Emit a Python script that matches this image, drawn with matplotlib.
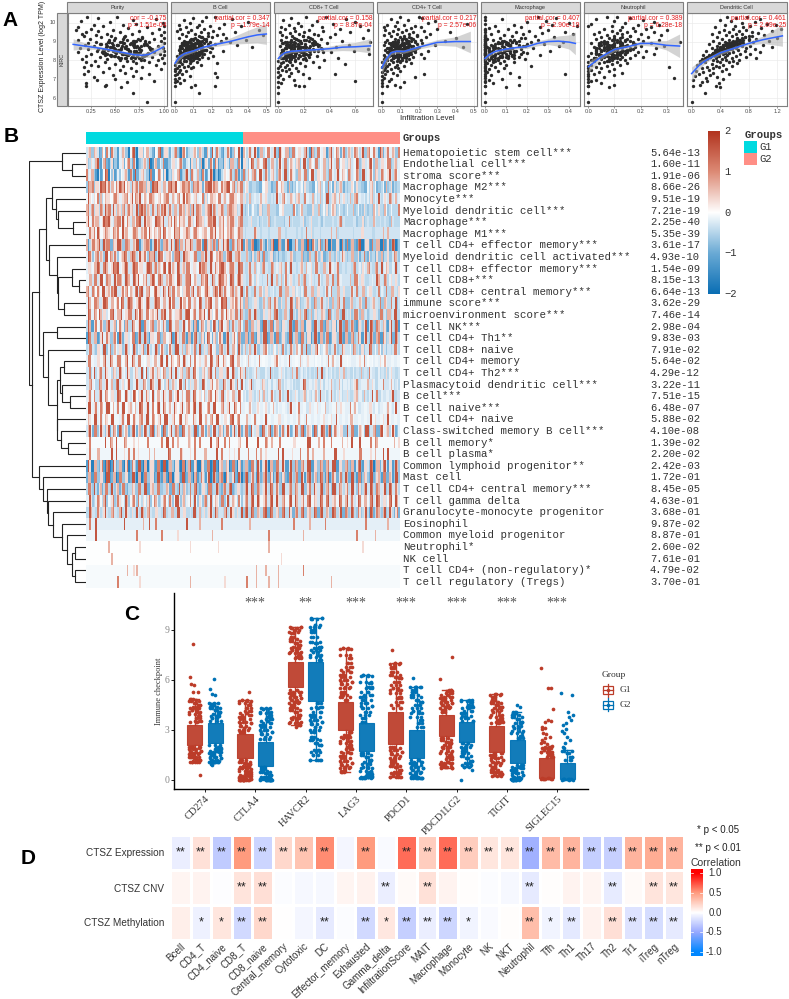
import numpy as np
import matplotlib
matplotlib.use("Agg")
import matplotlib.pyplot as plt
from matplotlib.colors import LinearSegmentedColormap, ListedColormap
from matplotlib.patches import Rectangle

W, H = 789, 999
plt.rcParams['font.family'] = ['Liberation Sans', 'DejaVu Sans']

# ---- panel A, one expression value per sample, x in hundredths per cell type
ctsz = [10.32,10.3,10.25,10.2,10.15,10.1,10.05,10.0,9.95,9.9,9.88,9.85,9.8,9.78,9.75,9.7,
        9.68,9.65,9.62,9.6,9.58,9.55,9.52,9.5,9.48,9.45,9.42,9.4,9.38,9.35,9.32,9.3,
        9.28,9.25,9.22,9.2,9.18,9.15,9.12,9.1,9.08,9.06,9.04,9.02,9.0,8.98,8.96,8.94,
        8.92,8.9,8.88,8.86,8.84,8.82,8.8,8.78,8.76,8.74,8.72,8.7,8.68,8.66,8.64,8.62,
        8.6,8.58,8.56,8.54,8.52,8.5,8.48,8.46,8.44,8.42,8.4,8.38,8.36,8.34,8.32,8.3,
        8.28,8.26,8.24,8.22,8.2,8.18,8.16,8.14,8.12,8.1,8.08,8.06,8.04,8.02,8.0,7.98,
        7.96,7.94,7.92,7.9,7.87,7.84,7.81,7.78,7.75,7.72,7.69,7.66,7.63,7.6,7.57,7.54,
        7.5,7.46,7.42,7.38,7.34,7.3,7.26,7.22,7.18,7.12,7.06,7.0,6.95,6.9,6.85,6.8,
        6.72,6.66,6.62,6.58,6.25,5.8]
purity_x = [21,52,33,92,68,15,45,99,72,28,58,100,38,83,12,63,
            25,95,48,10,75,33,100,55,20,88,42,67,16,97,30,60,
            18,78,36,100,50,24,90,62,12,44,70,97,30,55,85,22,
            47,100,35,65,19,80,52,94,28,73,41,60,99,14,86,33,
            56,22,77,43,100,64,31,90,50,12,70,38,96,58,25,82,
            46,100,68,20,53,88,35,75,60,98,42,16,80,55,94,29,
            62,20,85,40,100,72,50,25,92,58,33,78,18,66,44,97,
            55,22,72,38,60,18,85,48,68,28,77,50,32,90,62,20,
            41,40,20,56,68,83]
bcell_x = [17,22,10,31,5,15,40,8,27,13,2,19,36,6,12,24,
           3,16,46,9,21,1,14,33,7,18,4,26,11,48,23,13,
           6,20,15,28,2,10,17,39,8,12,25,5,14,19,30,9,
           16,4,11,22,7,13,34,18,3,9,15,42,12,6,20,10,
           8,14,2,17,11,26,5,13,9,19,4,12,7,16,3,10,
           12,6,21,1,9,15,4,11,7,18,3,13,8,2,10,5,
           6,1,12,3,8,23,4,14,0,7,2,10,5,1,9,0,
           3,0,6,2,22,1,4,0,8,23,2,0,5,1,0,3,
           11,22,0,9,13,0]
cd8_x = [22,37,10,53,4,30,60,15,43,8,26,64,18,2,34,12,
         48,5,24,70,13,35,1,20,56,9,28,16,44,3,31,11,
         19,40,6,25,66,14,33,2,22,10,50,17,72,7,29,13,
         38,4,21,12,55,27,8,16,31,1,45,19,10,24,6,70,
         15,34,3,22,11,28,59,7,18,41,13,2,25,9,71,16,
         5,20,30,12,1,24,8,47,15,3,19,10,36,6,22,0,
         13,4,27,9,2,17,52,7,11,1,21,5,32,0,14,8,
         3,15,6,0,10,44,19,1,8,0,24,4,12,60,0,2,
         13,16,20,0,0,0]
cd4_x = [20,10,22,5,14,29,8,25,46,3,12,18,7,21,1,16,
         9,30,13,2,23,6,17,37,11,4,15,26,8,19,1,12,
         5,24,10,16,40,7,13,3,21,9,34,14,2,18,6,11,
         22,4,15,8,12,29,1,17,10,6,44,13,3,19,9,14,
         7,16,2,11,25,5,13,9,18,3,12,6,15,21,8,1,
         10,14,4,7,17,2,12,23,6,9,1,15,5,11,3,8,
         13,0,6,10,2,16,4,8,1,12,3,7,0,9,2,5,
         1,10,3,0,6,23,2,8,0,18,1,5,0,4,12,0,
         7,0,3,10,0,0]
macro_x = [0,25,34,8,0,29,20,40,0,14,32,5,44,17,26,2,
           0,11,30,0,21,6,38,15,0,27,3,18,42,9,0,24,
           13,0,33,7,19,1,0,12,25,4,16,0,37,10,22,0,
           6,15,0,28,3,11,0,18,8,35,1,0,13,23,5,0,
           9,17,0,4,12,2,31,0,7,14,0,20,3,10,0,26,
           0,5,13,1,0,8,16,0,3,11,0,19,6,0,2,9,
           0,4,14,0,7,1,0,10,3,0,22,0,5,0,9,2,
           0,6,0,1,12,0,38,3,0,16,0,8,2,0,0,4,
           16,0,0,10,0,0]
neutro_x = [11,7,16,3,21,10,25,14,1,19,27,9,0,24,13,17,
            6,22,12,30,9,18,4,15,25,11,2,20,13,7,28,10,
            16,5,23,12,8,19,3,14,27,10,21,6,17,35,11,1,
            13,24,7,18,10,4,15,29,9,20,12,2,16,6,26,11,
            8,17,3,13,22,10,5,15,19,7,12,1,25,9,14,4,
            11,18,6,0,13,8,21,3,10,16,5,12,1,9,14,7,
            2,11,0,6,15,4,9,1,12,0,7,3,31,0,5,10,
            1,8,0,4,13,0,2,10,0,6,33,0,3,1,0,5,
            10,0,0,8,0,0]
dc_x = [50,78,62,95,40,55,88,70,105,46,118,60,82,33,72,97,
        58,125,45,76,66,112,38,85,52,93,62,70,28,101,48,80,
        56,74,35,120,64,43,90,52,80,68,30,108,47,60,86,38,
        72,55,24,66,100,44,58,82,36,70,50,112,62,28,76,45,
        54,88,32,65,48,20,74,58,40,96,52,30,68,44,82,36,
        50,16,62,38,76,46,26,56,34,90,42,22,66,48,30,58,
        36,18,52,40,12,64,28,44,8,34,56,22,38,14,30,48,
        24,6,42,16,30,52,10,26,4,36,20,44,2,22,14,38,
        12,34,2,40,18,0]

# the dense middle of each cloud
ctsz_core = [9.12,9.05,8.99,8.93,8.87,8.81,8.75,8.69,8.63,8.57,8.51,8.45,8.39,8.33,8.27,8.21,
             9.08,9.01,8.95,8.89,8.83,8.77,8.71,8.65,8.59,8.53,8.47,8.41,8.35,8.29,8.23,8.17,
             9.15,8.97,8.91,8.85,8.79,8.73,8.67,8.61,8.55,8.49,8.43,8.37,8.31,8.25,8.19,8.13,
             9.03,8.86,8.81,8.76,8.71,8.66,8.61,8.56,8.51,8.46,8.41,8.36,8.3,8.22,8.15,8.09,
             9.22,9.1,9.0,8.9,8.8,8.7,8.6,8.5,8.4,8.3,8.2,8.1,8.92,8.62,8.42,8.12,
             9.3,9.18,8.94,8.84,8.74,8.64,8.54,8.44,8.34,8.24,8.14,8.04,8.72,8.52,8.32,7.98]
purity_core = [58,72,44,66,80,52,61,47,75,38,69,55,84,42,63,73,
               49,81,57,36,68,77,45,60,88,53,71,40,64,79,50,67,
               74,43,59,82,48,70,56,86,39,65,76,51,62,46,78,54,
               68,41,83,57,72,49,63,87,52,37,74,60,45,80,66,55,
               59,76,44,70,53,85,62,48,73,40,67,56,81,50,64,71,
               46,78,58,69,42,75,54,65,83,49,61,77,47,72,57,68]
bcell_core = [9,15,6,12,18,4,10,14,7,16,3,11,8,13,5,9,
              12,17,5,10,14,7,19,3,11,6,13,8,15,4,9,12,
              16,8,11,4,14,6,12,9,17,5,10,3,13,7,11,2,
              13,6,10,15,8,3,12,5,9,14,7,4,11,6,2,8,
              14,10,7,13,5,11,8,15,3,9,6,12,4,10,7,5,
              18,11,6,9,13,4,16,8,12,5,10,2,7,14,3,9]
cd8_core = [14,24,9,18,30,6,21,12,27,4,16,35,10,22,7,13,
            20,28,5,15,11,25,8,33,17,3,19,13,9,23,6,11,
            26,12,18,7,32,10,15,21,4,24,14,8,19,5,12,2,
            17,29,8,13,22,6,16,10,25,3,14,20,7,11,4,9,
            23,15,10,27,7,18,12,31,5,13,9,21,3,16,8,6,
            19,12,26,9,15,5,22,11,7,17,4,13,10,20,2,8]
cd4_core = [11,16,7,13,19,5,10,14,8,17,4,12,9,15,6,10,
            13,18,6,11,15,8,20,4,12,7,14,9,16,5,10,13,
            17,9,12,5,15,7,13,10,18,6,11,4,14,8,12,3,
            14,7,11,16,9,4,13,6,10,15,8,5,12,7,3,9,
            15,11,8,14,6,12,9,16,4,10,7,13,5,11,8,6,
            19,12,7,10,14,5,17,9,13,6,11,3,8,15,4,10]
macro_core = [0,9,15,6,0,12,19,4,0,10,14,7,0,17,3,11,
              0,8,13,5,0,16,9,2,0,11,18,6,0,14,4,10,
              0,13,7,20,0,5,12,9,0,15,3,8,0,11,1,6,
              0,10,16,4,0,13,7,2,0,9,12,5,0,8,3,6,
              0,14,6,11,0,4,9,2,0,13,7,5,0,10,3,1,
              0,17,8,12,0,6,10,3,0,7,14,4,0,9,2,5]
neutro_core = [10,14,6,12,17,4,9,13,7,15,3,11,8,12,5,9,
               11,16,5,10,13,7,18,3,11,6,12,8,14,4,9,11,
               15,7,10,4,13,6,11,8,16,5,9,3,12,7,10,2,
               12,6,9,14,8,3,11,5,9,13,7,4,10,6,2,8,
               13,9,7,12,5,10,8,14,3,9,6,11,4,9,7,5,
               16,10,6,8,12,4,15,7,11,5,9,2,7,13,3,8]
dc_core = [64,58,70,52,60,46,54,42,56,38,48,34,44,30,36,26,
           72,62,56,66,50,44,58,40,52,36,46,32,38,28,34,22,
           80,60,68,54,48,62,42,50,38,44,32,46,28,36,26,20,
           66,58,50,64,44,54,40,48,34,42,30,38,24,32,20,14,
           74,66,58,50,44,40,36,50,44,30,26,22,60,48,34,18,
           84,70,64,56,52,44,40,36,30,26,22,16,54,42,28,12]

panel_names = ["Purity", "B Cell", "CD8+ T Cell", "CD4+ T Cell", "Macrophage", "Neutrophil", "Dendritic Cell"]
panel_x = [purity_x, bcell_x, cd8_x, cd4_x, macro_x, neutro_x, dc_x]
panel_core = [purity_core, bcell_core, cd8_core, cd4_core, macro_core, neutro_core, dc_core]
panel_cor = ["cor = -0.175", "partial.cor = 0.347", "partial.cor = 0.158", "partial.cor = 0.217",
             "partial.cor = 0.407", "partial.cor = 0.389", "partial.cor = 0.461"]
panel_p = ["p = 1.51e-04", "p = 1.79e-14", "p = 8.87e-04", "p = 2.57e-06",
           "p = 2.90e-19", "p = 6.28e-18", "p = 2.69e-25"]
panel_px = [(67.5, 167), (171, 270), (274.5, 373), (377.5, 477), (480.7, 580), (583.7, 683), (687, 786.7)]
panel_lim = [(0.012, 1.034), (-0.022, 0.52), (-0.03, 0.74), (-0.023, 0.516), (-0.02, 0.452), (-0.018, 0.363), (-0.065, 1.33)]
panel_ticks = [[0.25, 0.5, 0.75, 1.0], [0, .1, .2, .3, .4, .5], [0, .2, .4, .6], [0, .1, .2, .3, .4, .5],
               [0, .1, .2, .3, .4], [0, .1, .2, .3], [0, .4, .8, 1.2]]
panel_tick_fmt = ["%.2f", "%.1f", "%.1f", "%.1f", "%.1f", "%.1f", "%.1f"]

# fitted line and ribbon
fit_x = [[.07,.2,.3,.4,.5,.6,.7,.78,.85,.92,1.0],
         [0,.02,.05,.1,.15,.2,.3,.4,.45,.5],
         [0,.02,.05,.1,.2,.3,.4,.5,.6,.72],
         [0,.02,.05,.08,.12,.2,.3,.4,.48],
         [0,.02,.05,.1,.15,.2,.25,.3,.35,.4,.43],
         [0,.05,.1,.15,.2,.25,.3,.35],
         [0,.1,.2,.4,.6,.8,1.0,1.27]]
fit_y = [[8.85,8.75,8.68,8.6,8.5,8.4,8.3,8.27,8.32,8.5,8.72],
         [7.85,8.15,8.35,8.5,8.68,8.8,9.0,9.25,9.35,9.4],
         [8.1,8.25,8.4,8.48,8.53,8.57,8.62,8.7,8.72,8.77],
         [7.6,8.0,8.4,8.48,8.47,8.7,8.95,9.0,9.0],
         [8.1,8.3,8.48,8.6,8.68,8.73,8.9,9.0,9.02,8.97,8.9],
         [7.66,8.2,8.58,8.72,8.9,8.9,8.8,8.76],
         [7.3,7.72,8.0,8.4,8.65,8.9,9.1,9.3]]
fit_hi = [[9.15,8.9,8.78,8.68,8.58,8.48,8.4,8.4,8.48,8.72,9.0],
          [8.1,8.3,8.45,8.58,8.76,8.9,9.18,9.6,9.78,9.95],
          [8.35,8.4,8.5,8.56,8.6,8.66,8.76,8.88,8.95,9.15],
          [7.95,8.2,8.5,8.58,8.56,8.8,9.1,9.25,9.55],
          [8.22,8.4,8.56,8.68,8.76,8.83,9.03,9.16,9.3,9.35,9.5],
          [7.95,8.32,8.68,8.82,9.0,9.05,9.05,9.4],
          [7.65,7.95,8.12,8.5,8.74,9.0,9.3,9.9]]
fit_lo = [[8.55,8.6,8.58,8.52,8.42,8.32,8.2,8.14,8.16,8.28,8.44],
          [7.6,8.0,8.25,8.42,8.6,8.7,8.85,8.9,8.92,8.85],
          [7.85,8.1,8.3,8.4,8.46,8.48,8.48,8.52,8.5,8.4],
          [7.25,7.8,8.3,8.38,8.38,8.6,8.8,8.75,8.4],
          [7.98,8.2,8.4,8.52,8.6,8.63,8.77,8.84,8.75,8.6,8.3],
          [7.37,8.08,8.48,8.62,8.8,8.75,8.55,8.15],
          [6.9,7.5,7.88,8.3,8.56,8.8,8.9,8.75]]

# ---- panel B, one char per sample block: 0-9 blue levels, p-s red levels
heat_levels = {'0':-1.7,'1':-1.2,'2':-.9,'3':-.65,'4':-.45,'5':-.3,'6':-.18,'7':-.1,'8':-.05,'9':-.015,
               'p':.3,'q':.65,'r':1.1,'s':1.6}
heat_g1 = [
 "5q3p1q26r415p37s0p3q528r1p46q30r25p7q416s3p25r1q74",
 "p46q26r1p3162q4r03p5s1q24136p7r2514q30p26r13p5q426",
 "r6q152s03168p4r125q3018r7p236q14s2p53r16q204p7r3q5",
 "3qrp6rsrq7prsq4prrq3psrp5qrsq8prq5rqp2rspq6rqs7rqr",
 "7p6834qp8rp6qrp7qs8prq7p8qr6pq7srp6q7rp8qpr6q7rp8q",
 "q5rp4qsr5pq4rqp5srq4pr5qrs4pq5rqp3srq4pr5qpr4qrp4q",
 "p7rq5prs6qr6pr5qrs6pq7srp5qrs7pq6r5sqp6rqs5p7qrp6r",
 "7rp7q8rp7qr8pq7rq6prs8pq7rp8sq7pr6qr8pq7rs7p8qr7pq",
 "q4rps3qr2psq3r5qs1prq4sr2qps3rq5ps4qr1sp3qr5ps2qrp",
 "6r3q5ps7qr3ps5qr4sp6rq3sr5p7qr4sq6pr3qs5r7pq3rs5qp",
 "6p7qr5s6prs7qr5srp6qs5rq7sr6ps5qr7p6srq5pr7sq6rp5r",
 "7q5rps5q6srq5r6sp7qr5s7rq5pr6sq5rs7p5qr6s5qrp7s5qr",
 "q6r8ps6qrs5p7rq6sr5qr7sp6qs5rq8pr5s6q7rp5s6qr7q5pr",
 "6q7r5ps6q8rs5qr6ps7rq5sr6qp8r5sq7rp6s5qr7q6sr5p8qr",
 "7r6qs5p8r6qs7pr5qs6r8qp5rs7q6pr5s8q6rp7s5q6r7pq5rs",
 "4q1r6p3s5q7p2r4q6s1p7r3q5p2r6q4s7p1r5q3p7r2s6q4p5r",
 "1r4q2s6p3r1q5p7r2s4q1p6r3q7s2p5r1q4s3p6r2q7p1s4r3q",
 "4r53p4s63q5p4q7s35r4p6s3r47p3s54q6p3s45q7p3r4s5q3p",
 "6r76p7s6q7r67s7q6r76p7q6s76r8q7s6r78p6q7r6s7p8r6q7",
 "5r64q5s64p5q7s46p54s6r5p7q4s65p4q5s74p6q5r4p5s6q4r",
 "5q64r5p7q4s65p46s5r74q5s64r5p7s46p5q4s65r7p4q5s6r4",
 "6r75q6r8p5s76q5s8p6r5s7q6p5r8s67r5s6p85q7s6r5p7q6r",
 "7s6r7q6s87r6s7q86s7p6r8s7q67s8p6q7r6s78r6s7q6p7s8r",
 "7p7s76q8s77p6s8r7q7s6r8p7s76r8s7p7r6s8q7r7s6p8r7q7",
 "5s2r6p3s5q2r7p4s2q6r3s5p2r7s4q2r6p3s5r2q7s3p5r2s6q",
 "8r8888s8q888r88p88888888r8s88q888p88r88888s8r8888q",
 "7r77q777s777p77r7777q77777s777r77p7777q7777r777p77",
 "1p0q2r0s1p3q0r2p1s0q3p1r0s2q1p0r3s1q0p2r1s0q3p1r0q",
 "2q1r3p0s2q1r3p2s0q1r3p2s1q0r3p1s2q0r3p1s2q1r0p3s1q",
 "4r34p2r4s3q4r24p3r4s2q4r34p2r34q3r4s2p4r34q2r4s3p4",
 "6s36q4s7p3r64q7r36p4r7q36r4p7s3q6r47p3r64q7r3s6p47",
 "4s54p5s4q54s5p45s4q5r4p54r5q4s5p45s4q54p5s45q4s5p4",
 "6r6s66666666s66666q6s6r666666666s666q666666r666666",
 "777s777777777777r7777777r7777p7777777777q777777777",
 "9999999q999999999p999999999999999p99999999p9999999",
 "99999999q999999999999999999999999999999999999999",
 "8888888888888q8pq8888888888888888888888888888888",
 "8888888888r888888p888888888888888q8888888888p8888",
]
heat_g2 = [
 "q4r6p3q7r5s2p6q3r7p5s1q4r6p3s7q2r5p6q4s3r7p1q5r6p3",
 "p57r4p6s3q5p7r4q6p3s5q7r46q3s5r7p4q6s3p5r7q4p6r3p5",
 "r57q4s6r3p5q7s4r63q5r7s4p6q3r5s7p4q6r3s5p7q4r6p5q7",
 "4p34327p4237q42347534328p43r7p4q2347p4324q73423p44",
 "54q5566p45566r5q6p5465q6544s5q65p4q5r6544q6s4p5q65",
 "44374p34q4437444r37443p4q4437p44374q4334437p4q3744",
 "44544354q4544354445p45445344445r544534p44454454q44",
 "5555p555455q55555455r5455555q545555455p5545555q555",
 "1q2r02p13q0r21s03p2q01r3p2s0q1p03r2q1s0p2r3q01p2r1",
 "4q3p4r234p32435q34423q4r3p244345p34q3243p423q4p3r4",
 "54r546q54r55q46s54p5q64r54q6p5r4555q46p5r4q5s6p454",
 "54r6p5455s54q65p455q4655r45q54r655q4r5p4565q5r4p55",
 "4r545q6p4545r4q5p644r5q4p565r4q5p456r5q4p54r644q54",
 "3q45p345q5r3p45s5q34p53q4r5p34q5r3p45q3r4p543q4r53",
 "43r5q435p5r43q5s43q5s43p5q4s34q3s5p4r3q545p3r5q4s4",
 "3r2q4p1s3r5q2p4s1r3q5p2s4r1q3p5s2r4q1p3s5r2q4p1s3r",
 "2q3r1p4s2q1r3p2s4q1r2p3s1q4r2p3s1q2r4p1s3q2r1p4s2q",
 "54q5p35r447p355r4q54s35q75p45r34p57r43p5s47q3554r5",
 "76677r8767p8767678q76778767r676s78767p7678767q6767",
 "5445q5465445p6545r5465445s546545q5465445r546544p54",
 "65p466q5646r5665446s565p4665q4566546r5665p46655q46",
 "54p56q456r4565s4565p456q4565r4565p45q6456s54656p45",
 "67q5676p5767675s67675p6767q5676p76r67567p67567q676",
 "7q67676s767p67676767r7676767p67676q7676767p676s676",
 "5r26p3s5q2r7p4s26r3s5p2r7s4q2r6p3s5r2q7s35r2s6q7p3",
 "8s88888r8q888888p8888s88q888r8888p888s8888r88888q8",
 "7777r77p777s777777r777q777777s77p7777r7777q777s77",
 "3q1r2p5s0q2r5p1s3q2r5s1p3q2r5s1p3r2q5s1p3r2q5s1p3q",
 "2s3r1q3s2p3r2q1s3r2p4s2q3r1s3p2r4q2s1r3p2s3q1r2p3s",
 "4s5r3q5s4r5p3s5r4q5s3r4p5s4r3s5q4r5s3p4s5r3q5s4r5p",
 "6r5s6q7r5s6p5r7s6q5r6s7p5r6s5q7r6s5p6r7q5s6r5p7s6q",
 "3s4r3p4s2r4q3s4p2r4s3q4r2s4p3r4s2q4r3p4s2r4q3s4p2r",
 "66q6666666666666r6666q6666r666666666666r666666q666",
 "77777777r7777777777q7777777777777777r77777q7777777",
 "99999999q99999999999999999999999999999p9999999999",
 "999999999999p9999999999999999999999999999999999999",
 "8888q88q888q8888888r888888888888888888888888888888q8",
 "8r88q888q88q8888888888888888q8888888888888888888888",
]
heat_rows = ["Hematopoietic stem cell***", "Endothelial cell***", "stroma score***", "Macrophage M2***",
             "Monocyte***", "Myeloid dendritic cell***", "Macrophage***", "Macrophage M1***",
             "T cell CD4+ effector memory***", "Myeloid dendritic cell activated***",
             "T cell CD8+ effector memory***", "T cell CD8+***", "T cell CD8+ central memory***",
             "immune score***", "microenvironment score***", "T cell NK***", "T cell CD4+ Th1**",
             "T cell CD8+ naive", "T cell CD4+ memory", "T cell CD4+ Th2***", "Plasmacytoid dendritic cell***",
             "B cell***", "B cell naive***", "T cell CD4+ naive", "Class-switched memory B cell***",
             "B cell memory*", "B cell plasma*", "Common lymphoid progenitor**", "Mast cell",
             "T cell CD4+ central memory***", "T cell gamma delta", "Granulocyte-monocyte progenitor",
             "Eosinophil", "Common myeloid progenitor", "Neutrophil*", "NK cell",
             "T cell CD4+ (non-regulatory)*", "T cell regulatory (Tregs)"]
heat_p = ["5.64e-13","1.60e-11","1.91e-06","8.66e-26","9.51e-19","7.21e-19","2.25e-40","5.35e-39","3.61e-17",
          "4.93e-10","1.54e-09","8.15e-13","6.64e-13","3.62e-29","7.46e-14","2.98e-04","9.83e-03","7.91e-02",
          "5.64e-02","4.29e-12","3.22e-11","7.51e-15","6.48e-07","5.88e-02","4.10e-08","1.39e-02","2.20e-02",
          "2.42e-03","1.72e-01","8.45e-05","4.63e-01","3.68e-01","9.87e-02","8.87e-01","2.60e-02","7.61e-01",
          "4.79e-02","3.70e-01"]
# tree as (height, child, child), a child is a row number or another node
tree_n3 = (128, (170, 15, 16),
           (145, 17, (170, (180, (193, 18, 19), (187, 20, (210, 21, 22))),
                      (172, 23, (183, 24, (205, 25, 26))))))
tree_n2 = (138, (155, 3, (168, 4, (175, 5, (220, 6, 7)))),
           (148, 8, (170, 9, (175, (215, 10, (237, 11, 12)), (193, 13, 14)))))
tree_low = (117, 27, (130, 28, (140, 29, (145, 30, (160, 31, (187, 32, (200, 33,
            (215, (225, 34, 35), (225, 36, 37)))))))))
tree_root = (88, (185, 0, (215, 1, 2)), (97, (118, tree_n2, tree_n3), tree_low))

# ---- panel C
genes = ["CD274", "CTLA4", "HAVCR2", "LAG3", "PDCD1", "PDCD1LG2", "TIGIT", "SIGLEC15"]
gene_stars = ["", "***", "**", "***", "***", "***", "***", "***"]
# q1, median, q3, whisker low, whisker high
box_g1 = [(2.1,2.7,3.3,1.1,4.85), (1.3,1.95,2.75,0,4.8), (5.55,6.3,7.1,3.3,9.2), (3.0,3.8,4.65,.5,7.9),
          (2.15,3.1,4.1,.2,7.0), (2.65,3.3,3.9,.7,5.4), (1.7,2.5,3.25,.25,5.15), (.1,.7,1.3,.05,2.0)]
box_g2 = [(2.2,2.9,3.4,1.0,4.6), (.85,1.5,2.25,0,4.3), (4.75,6.0,7.1,1.2,9.7), (1.75,2.6,3.4,.1,6.3),
          (1.3,2.1,3.0,.1,5.6), (2.3,2.9,3.45,.8,4.8), (1.0,1.7,2.4,0,4.1), (.05,.5,1.0,.02,1.8)]
strip_g1 = [
 [8.15,6.15,5.75,5.7,5.25,5.25,4.85,4.8,4.75,4.6,4.5,4.4,4.3,4.2,4.1,3.95,3.85,3.7,3.55,3.45,2.0,1.95,1.9,1.85,1.75,1.7,1.6,1.55,1.5,1.45,1.4,1.35,1.3,1.2,1.15,1.1,1.1,.3],
 [5.3,4.8,4.75,4.6,4.5,4.3,4.15,4.0,3.9,3.8,3.65,3.5,3.4,3.25,3.1,3.0,2.9,2.85,1.2,1.1,1.0,.95,.85,.8,.7,.65,.55,.5,.45,.35,.3,.25,.2,.15,.1,.05,0,0,0,0],
 [9.2,9.1,9.0,8.9,8.8,8.6,8.45,8.35,8.2,8.1,8.0,7.9,7.8,7.7,7.6,7.5,7.4,7.3,5.4,5.3,5.2,5.1,5.0,4.9,4.8,4.7,4.6,4.5,4.4,4.3,4.2,4.05,3.9,3.8,3.7,3.65,3.5,3.4,3.3,3.15],
 [7.9,7.85,7.5,7.3,7.0,6.8,6.6,6.5,6.3,6.2,6.0,5.9,5.75,5.6,5.5,5.3,5.2,5.1,4.95,4.8,2.85,2.7,2.6,2.5,2.35,2.2,2.1,1.95,1.85,1.7,1.6,1.45,1.3,1.15,1.0,.9,.8,.7,.55,.5],
 [7.8,7.0,6.95,6.8,6.7,6.5,6.3,6.2,6.1,5.9,5.7,5.5,5.4,5.2,5.0,4.9,4.7,4.5,4.3,2.0,1.9,1.8,1.7,1.55,1.45,1.3,1.2,1.05,.95,.85,.75,.6,.5,.4,.3,.2,.2],
 [7.4,6.05,5.4,5.35,5.2,5.1,5.0,4.9,4.8,4.7,4.6,4.5,4.4,4.3,4.2,4.05,2.5,2.4,2.3,2.2,2.1,2.0,1.9,1.75,1.6,1.5,1.35,1.25,1.1,1.0,.95,.85,.8,.7],
 [5.15,5.1,4.95,4.8,4.7,4.6,4.5,4.4,4.3,4.2,4.05,3.9,3.8,3.7,3.6,3.5,3.4,1.6,1.5,1.4,1.3,1.2,1.1,1.0,.9,.8,.7,.6,.5,.45,.35,.3,.25],
 [6.7,5.5,5.5,4.25,3.6,3.55,3.5,3.2,3.1,3.05,2.8,2.75,2.6,2.5,2.4,2.3,2.2,2.15,2.05,1.95,1.9,1.8,1.7,1.65,1.55,1.5,1.4,.1,.08,.05],
]
strip_g2 = [
 [6.05,5.45,5.15,5.1,4.6,4.55,4.5,4.4,4.3,4.2,4.1,3.95,3.85,3.7,3.55,2.1,2.0,1.9,1.85,1.75,1.7,1.6,1.5,1.4,1.3,1.2,1.15,1.1,1.05,.95,.9],
 [4.3,4.25,4.1,4.0,3.9,3.8,3.65,3.55,3.4,3.3,3.15,3.0,2.9,2.75,2.6,2.45,.75,.65,.55,.5,.4,.3,.2,.15,.1,.05,0,0,0,0],
 [9.7,9.65,9.3,9.2,9.0,8.9,8.6,8.3,8.2,8.0,7.9,7.8,7.7,7.5,7.4,7.2,4.6,4.4,4.3,4.1,3.9,3.75,3.6,3.5,3.35,3.2,3.0,2.9,2.6,2.45,2.4,2.2,2.1,1.8,1.65,1.5,1.2,1.2],
 [6.3,6.25,5.9,5.8,5.6,5.5,5.3,5.1,5.0,4.8,4.6,4.45,4.3,4.1,3.9,3.7,3.5,1.6,1.5,1.35,1.2,1.05,.95,.8,.7,.55,.45,.35,.25,.2,.15,.1,.1],
 [6.1,5.6,5.55,5.4,5.3,5.1,5.0,4.8,4.7,4.5,4.3,4.15,4.0,3.8,3.6,3.4,3.2,1.2,1.1,1.0,.9,.8,.7,.6,.5,.4,.3,.2,.15,.1,.1,.1],
 [4.8,4.75,4.7,4.5,4.4,4.3,4.15,4.0,3.85,3.7,3.55,2.2,2.1,2.0,1.9,1.75,1.6,1.45,1.3,1.15,1.0,.9,.8,.6,0],
 [4.5,4.4,4.1,4.0,3.9,3.8,3.65,3.5,3.4,3.25,3.1,2.95,2.8,2.65,2.5,.9,.8,.7,.6,.5,.4,.3,.2,.1,.05,0,0,0],
 [5.2,5.1,4.1,3.9,3.8,3.6,3.4,3.3,3.05,2.95,2.8,2.55,2.4,2.2,2.0,1.9,1.75,1.6,1.4,1.2,.05,.03,.02],
]
jitter = [-.03,.08,-.1,.04,-.07,.11,-.01,-.12,.06,.09,-.04,.02,-.09,.12,-.06,.03,-.11,.08,.0,-.03,.1,-.09,.05]

# ---- panel D
corr_rows = ["CTSZ Expression", "CTSZ CNV", "CTSZ Methylation"]
corr_cols = ["Bcell","CD4_T","CD4_naive","CD8_T","CD8_naive","Central_memory","Cytotoxic","DC","Effector_memory",
             "Exhausted","Gamma_delta","InfiltrationScore","MAIT","Macrophage","Monocyte","NK","NKT","Neutrophil",
             "Tfh","Th1","Th17","Th2","Tr1","iTreg","nTreg"]
corr_expr = [-.1,.15,-.3,.5,-.25,.2,.3,.55,-.05,.5,-.03,.65,.25,.65,.25,.13,.13,-.45,.35,.38,-.28,-.27,.38,.42,.38]
corr_cnv = [.05,.06,-.01,.14,.16,-.02,-.04,-.04,.05,.07,-.1,.03,.15,.06,.01,-.02,-.04,-.12,.01,.06,.05,-.11,.03,.14,.13]
corr_meth = [.08,-.08,.13,-.22,.2,0,-.05,-.12,-.02,-.22,.12,-.28,-.1,-.24,-.07,-.03,.01,.33,-.07,-.13,.07,.16,-.16,-.2,-.12]
stars_expr = ["**","**","**","**","**","**","**","**","","**","","**","**","**","**","**","**","**","**","**","**","**","**","**","**"]
stars_cnv = ["","","","**","**","","","","","","**","","**","","","","","**","","","","**","","**","**"]
stars_meth = ["","*","*","**","**","","","**","","**","*","**","**","**","*","","","**","*","**","","**","**","**","**"]


def px_axes(x0, y0, x1, y1):
    return fig.add_axes([x0 / W, 1 - y1 / H, (x1 - x0) / W, (y1 - y0) / H])


fig = plt.figure(figsize=(W / 100, H / 100), dpi=100)
ov = fig.add_axes([0, 0, 1, 1], zorder=20)
ov.set_xlim(0, W)
ov.set_ylim(H, 0)
ov.axis("off")
ov.patch.set_alpha(0)

for label, lx, ly, size in [("A", 10, 20, 15), ("B", 11, 136, 15), ("C", 132, 614, 15), ("D", 28, 859, 15)]:
    ov.text(lx, ly, label, fontsize=size, fontweight="bold", ha="center", va="center")

# panel A
gray_edge = "#7f7f7f"
y_all = np.array(ctsz + ctsz_core)
for i, name in enumerate(panel_names):
    x0, x1 = panel_px[i]
    ax = px_axes(x0, 12.5, x1, 106)
    xs = np.array(panel_x[i] + panel_core[i]) / 100.0
    n = min(len(xs), len(y_all))
    ax.scatter(xs[:n], y_all[:n], s=5.8, color="#2b2b2b", linewidths=0, zorder=3)
    ax.fill_between(fit_x[i], fit_lo[i], fit_hi[i], color="#b0b0b0", alpha=.55, linewidth=0, zorder=4)
    ax.plot(fit_x[i], fit_y[i], color="#3366FF", lw=1.1, zorder=5)
    ax.set_xlim(*panel_lim[i])
    ax.set_ylim(5.58, 10.54)
    ax.set_xticks(panel_ticks[i])
    ax.set_xticklabels([panel_tick_fmt[i] % t for t in panel_ticks[i]])
    ax.set_yticks([6, 7, 8, 9, 10])
    ax.grid(color="#ebebeb", lw=.5, zorder=0)
    ax.set_axisbelow(True)
    ax.tick_params(labelsize=4, length=1.2, width=.4, colors="#4d4d4d", pad=1)
    ax.tick_params(axis="y", left=False, labelleft=False)
    for sp in ax.spines.values():
        sp.set_color(gray_edge)
        sp.set_linewidth(.8)
    ax.text(.993, .94, panel_cor[i], transform=ax.transAxes, color="#e41a1c", fontsize=4.9, ha="right", va="center", zorder=6)
    ax.text(.993, .865, panel_p[i], transform=ax.transAxes, color="#e41a1c", fontsize=4.9, ha="right", va="center", zorder=6)
    ov.add_patch(Rectangle((x0, 2), x1 - x0, 10.5, fc="#d9d9d9", ec=gray_edge, lw=.8))
    ov.text((x0 + x1) / 2, 7.3, name, fontsize=4, color="#333333", ha="center", va="center")
ov.add_patch(Rectangle((57, 12.5), 10.5, 93.5, fc="#d9d9d9", ec=gray_edge, lw=.8))
ov.text(62, 59, "KIRC", fontsize=4, color="#333333", rotation=90, ha="center", va="center")
for val in [6, 7, 8, 9, 10]:
    ov.text(55.5, 98 - (val - 6) * 18.85, str(val), fontsize=4, color="#4d4d4d", ha="right", va="center")
ov.text(43, 56, "CTSZ Expression Level (log2 TPM)", fontsize=5, color="#222222", rotation=90, ha="center", va="center")
ov.text(427, 119, "Infiltration Level", fontsize=5.6, color="#222222", ha="center", va="center")

# panel B
heat_cmap = LinearSegmentedColormap.from_list("heat", [(0, "#0a6eb4"), (.25, "#6aaad5"), (.5, "#ffffff"),
                                                       (.75, "#dd8b76"), (1, "#b2341f")])
n_col = 50


def fine_row(s, sparse):
    # thin stripes: each block is split, the second half repeats another block of the same row
    s = s.ljust(n_col, s[-1])[:n_col]
    base = max(set(s), key=s.count)
    out = []
    for k, c in enumerate(s):
        out.append(c)
        out.append(base if sparse else s[(k + 17) % n_col])
    return out


heat = np.zeros((len(heat_g1), 4 * n_col))
for r in range(len(heat_g1)):
    codes = fine_row(heat_g1[r], r >= 32) + fine_row(heat_g2[r], r >= 32)
    heat[r] = [heat_levels[c] for c in codes]
ax = px_axes(86, 146.7, 399.5, 587.7)
ax.imshow(heat, cmap=heat_cmap, vmin=-2, vmax=2, aspect="auto", interpolation="nearest")
ax.axis("off")

ax = px_axes(86, 132.3, 399.5, 144)
ax.imshow([[0, 1]], cmap=ListedColormap(["#00DAE0", "#FF8F86"]), aspect="auto", interpolation="nearest")
ax.axis("off")

mono = ["Liberation Mono", "DejaVu Sans Mono"]
ov.text(403, 138.3, "Groups", family=mono, fontsize=7.7, fontweight="bold", color="#333333", va="center")
row_h = (587.7 - 146.7) / 38
for r in range(38):
    yc = 146.7 + row_h * (r + .5)
    ov.text(403, yc, heat_rows[r], family=mono, fontsize=7.75, color="#333333", va="center")
    ov.text(650, yc, heat_p[r], family=mono, fontsize=7.6, color="#333333", va="center")

ax = px_axes(708, 131, 720, 294)
ax.imshow(np.linspace(2, -2, 256)[:, None], cmap=heat_cmap, vmin=-2, vmax=2, aspect="auto", extent=(0, 1, -2, 2))
ax.axis("off")
for val in [2, 1, 0, -1, -2]:
    ov.text(724, 212.7 - val * 40.6, str(val).replace("-", "\u2212"), family=mono, fontsize=7.6, color="#333333", va="center")

ov.text(745, 135, "Groups", family=mono, fontsize=7.7, fontweight="bold", color="#333333", va="center")
ov.add_patch(Rectangle((744.3, 141), 12.4, 12, fc="#00DAE0", ec="none"))
ov.add_patch(Rectangle((744.3, 153), 12.4, 12, fc="#FF8F86", ec="none"))
ov.text(759, 147, "G1", family=mono, fontsize=7.6, color="#333333", va="center")
ov.text(759, 159, "G2", family=mono, fontsize=7.6, color="#333333", va="center")

ax = px_axes(29, 146.7, 86, 587.7)
ax.set_xlim(87, 258)
ax.set_ylim(38, 0)
ax.axis("off")


def draw_tree(node):
    if isinstance(node, int):
        return 258, node + .5
    h, left, right = node
    xl, yl = draw_tree(left)
    xr, yr = draw_tree(right)
    ax.plot([xl, h, h, xr], [yl, yl, yr, yr], color="#222222", lw=.8, solid_joinstyle="miter")
    return h, (yl + yr) / 2


draw_tree(tree_root)

# panel C
col_g1, col_g2 = "#BC3C29", "#0072B5"
ax = px_axes(174, 593, 587.7, 789.3)
ax.set_xlim(-.616, 7.608)
ax.set_ylim(-.56, 11.22)
for g, (boxes, strips, col, off) in enumerate([(box_g1, strip_g1, col_g1, -.205), (box_g2, strip_g2, col_g2, .205)]):
    for i in range(len(genes)):
        q1, med, q3, lo, hi = boxes[i]
        xc = i + off
        ax.add_patch(Rectangle((xc - .15, q1), .3, q3 - q1, fc=col, ec=col, lw=.8, alpha=.93, zorder=2))
        ax.plot([xc, xc], [lo, q1], color=col, lw=1, zorder=2)
        ax.plot([xc, xc], [q3, hi], color=col, lw=1, zorder=2)
        ax.plot([xc - .08, xc + .08], [hi, hi], color=col, lw=1, zorder=2)
        ax.plot([xc - .08, xc + .08], [lo, lo], color=col, lw=1, zorder=2)
        ys = strips[i]
        xs = [xc + jitter[(k * 2 + i) % len(jitter)] for k in range(len(ys))]
        ax.scatter(xs, ys, s=7, color=col, linewidths=0, zorder=3)
        # points inside the whiskers sit side by side, outliers stay single
        inner = [k for k in range(len(ys)) if lo <= ys[k] <= hi]
        xs2 = [xc + jitter[(k * 2 + i + 11) % len(jitter)] for k in inner]
        xs3 = [xc - jitter[(k * 2 + i + 5) % len(jitter)] for k in inner]
        ax.scatter(xs2, [ys[k] for k in inner], s=7, color=col, linewidths=0, zorder=3)
        ax.scatter(xs3, [ys[k] for k in inner], s=7, color=col, linewidths=0, zorder=3)
for i, st in enumerate(gene_stars):
    ax.text(i, 10.6, st, family=["Liberation Serif"], fontsize=10, color="#555555", ha="center", va="center")
ax.set_xticks(range(len(genes)))
ax.set_xticklabels(genes, rotation=45, ha="right", rotation_mode="anchor", family="Liberation Serif",
                   fontsize=7.5, color="#333333")
ax.set_yticks([0, 3, 6, 9])
ax.set_yticklabels(["0", "3", "6", "9"], family="Liberation Serif", fontsize=7, color="#888888")
ax.tick_params(length=2, width=.7, color="#222222", pad=1.5)
ax.spines["top"].set_visible(False)
ax.spines["right"].set_visible(False)
ax.spines["left"].set_linewidth(1)
ax.spines["bottom"].set_linewidth(1)

serif = ["Liberation Serif"]
ov.text(159, 691, "Immune checkpoint", family=serif, fontsize=6, color="#333333", rotation=90, ha="center", va="center")
ov.text(601.7, 675, "Group", family=serif, fontsize=6.8, color="#333333", va="center")
for yk, col, lab in [(690, col_g1, "G1"), (704.7, col_g2, "G2")]:
    ov.add_patch(Rectangle((603, yk - 4), 10.5, 8, fc="white", ec=col, lw=.9))
    ov.plot([608.2, 608.2], [yk - 6.5, yk + 6.5], color=col, lw=.9, zorder=1)
    ov.plot([603, 613.5], [yk, yk], color=col, lw=.9)
    ov.plot([608.2], [yk], "o", color=col, ms=2.6, mew=0)
    ov.text(620, yk, lab, family=serif, fontsize=6.8, color="#333333", va="center")

# panel D
corr_cmap = LinearSegmentedColormap.from_list("corr", [(0, "#0087ff"), (.25, "#97a9ff"), (.5, "#ffffff"),
                                                       (.75, "#ff9d80"), (1, "#ff0000")])
corr = np.array([corr_expr, corr_cnv, corr_meth])
ax = px_axes(170, 835, 684.3, 940)
ax.pcolormesh(corr, cmap=corr_cmap, vmin=-1, vmax=1, edgecolors="white", linewidth=.8)
ax.set_ylim(3, 0)
for r, row in enumerate([stars_expr, stars_cnv, stars_meth]):
    for c, st in enumerate(row):
        if st:
            ax.text(c + .5, r + .5, st, fontsize=9, color="#222222", ha="center", va="center")
ax.set_xticks(np.arange(len(corr_cols)) + .5)
ax.set_xticklabels(corr_cols, rotation=43, ha="right", rotation_mode="anchor", fontsize=7.1, color="#333333")
ax.set_yticks([.5, 1.5, 2.5])
ax.set_yticklabels(corr_rows, fontsize=7.2, color="#333333")
ax.tick_params(axis="y", length=0, pad=4)
ax.tick_params(axis="x", length=0, pad=1)
for sp in ax.spines.values():
    sp.set_visible(False)

ax = px_axes(691, 869, 702.7, 956)
ax.imshow(np.linspace(1.1, -1.1, 256)[:, None], cmap=corr_cmap, vmin=-1, vmax=1, aspect="auto", extent=(0, 1, -1.11, 1.11))
for val in [1, .5, 0, -.5, -1]:
    ax.plot([0, .2], [val, val], color="white", lw=.5)
    ax.plot([.8, 1], [val, val], color="white", lw=.5)
ax.set_xlim(0, 1)
ax.axis("off")
for val, lab in [(1, "1.0"), (.5, "0.5"), (0, "0.0"), (-.5, "-0.5"), (-1, "-1.0")]:
    ov.text(722, 912.7 - val * 39.2, lab, fontsize=7, color="#333333", ha="right", va="center")
ov.text(691, 862.7, "Correlation", fontsize=7.5, color="#333333", va="center")
ov.text(697, 830, "* p < 0.05", fontsize=7, color="#222222", va="center")
ov.text(695, 848, "** p < 0.01", fontsize=7, color="#222222", va="center")

fig.savefig("out.png", dpi=100)
